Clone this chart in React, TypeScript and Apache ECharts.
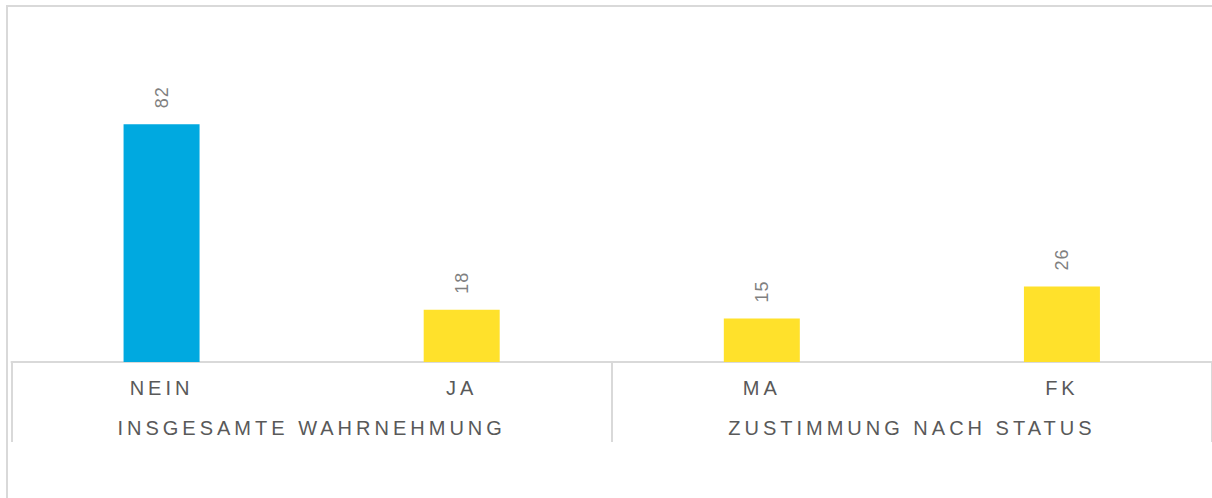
import React, { useEffect, useRef } from "react";
import * as echarts from "echarts";

const categories = ["NEIN", "JA", "MA", "FK"];
const groups = ["INSGESAMTE WAHRNEHMUNG", "ZUSTIMMUNG NACH STATUS"];
const values = [82, 18, 15, 26];
const barColors = ["#00A9E0", "#FFE12B", "#FFE12B", "#FFE12B"];

export default function App() {
  const ref = useRef<HTMLDivElement>(null);
  useEffect(() => {
    if (!ref.current) return;
    const chart = echarts.init(ref.current, null, { renderer: "svg" });
    chart.setOption({
      animation: false,
      graphic: [
        {
          type: "rect",
          shape: { x: 7, y: 6, width: 1400, height: 700 },
          style: { fill: "none", stroke: "#d9d9d9", lineWidth: 2 },
          silent: true,
        },
      ],
      grid: { left: 11.5, width: 1204, top: 72, bottom: 136, containLabel: false },
      yAxis: { type: "value", min: 0, max: 100, show: false },
      xAxis: [
        {
          type: "category",
          data: categories,
          position: "bottom",
          axisLine: { show: true, lineStyle: { color: "#d9d9d9", width: 2 } },
          axisTick: { show: false },
          axisLabel: {
            color: "#595959",
            fontSize: 20,
            fontFamily: "Liberation Sans",
            margin: 16,
          },
        },
        {
          type: "category",
          data: groups,
          position: "bottom",
          offset: 0,
          axisLine: { show: false },
          axisTick: { show: true, length: 80, lineStyle: { color: "#d9d9d9", width: 2 } },
          axisLabel: {
            color: "#595959",
            fontSize: 20,
            fontFamily: "Liberation Sans",
            margin: 56,
          },
        },
      ],
      series: [
        {
          type: "bar",
          xAxisIndex: 0,
          barWidth: 76,
          data: values.map((v, i) => ({ value: v, itemStyle: { color: barColors[i] } })),
          label: {
            show: true,
            position: "top",
            distance: 16,
            rotate: 90,
            align: "left",
            verticalAlign: "middle",
            color: "#808080",
            fontSize: 18,
            fontFamily: "Liberation Sans",
          },
        },
      ],
    });
    return () => chart.dispose();
  }, []);
  return (
    <>
      <style>{`
        #chartbox text[style*="20px"] { letter-spacing: 4px; }
        #chartbox text[style*="18px"] { letter-spacing: 1px; }
      `}</style>
      <div
        id="chartbox"
        ref={ref}
        style={{ position: "fixed", left: 0, top: 0, width: 1212, height: 498, background: "#fff" }}
      />
    </>
  );
}
